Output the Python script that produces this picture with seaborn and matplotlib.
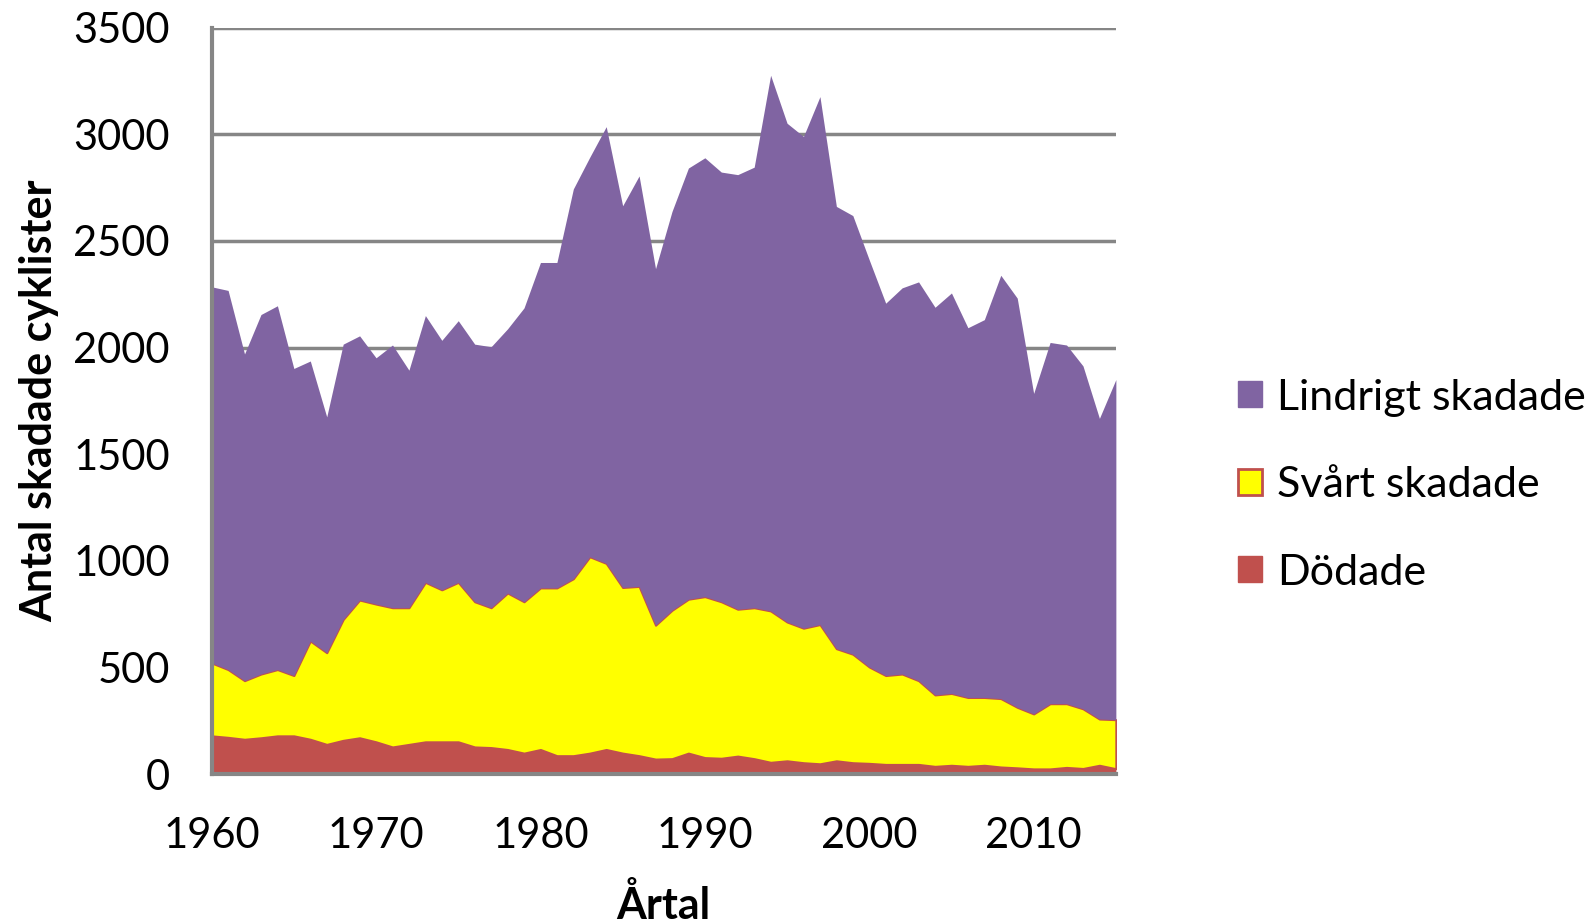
import numpy as np
import pandas as pd
import matplotlib
matplotlib.use("Agg")
import matplotlib.pyplot as plt
import seaborn as sns
from matplotlib.patches import Patch
from matplotlib.ticker import MultipleLocator

# ── Data ────────────────────────────────────────────────────
years = list(range(1960, 2016))

dodade = [179, 172, 163, 170, 179, 179, 163, 139, 158, 170,
          151, 127, 139, 151, 151, 151, 127, 124, 115, 98,
          115, 86, 86, 98, 115, 98, 86, 70, 72, 98,
          77, 74, 84, 72, 55, 62, 53, 48, 62, 53,
          50, 45, 45, 45, 36, 41, 36, 41, 33, 29,
          24, 24, 31, 26, 41, 25]

svart = [342, 318, 275, 299, 311, 283, 461, 430, 567, 646,
         646, 653, 641, 748, 713, 748, 681, 656, 734, 710,
         758, 787, 830, 921, 873, 777, 794, 628, 696, 722,
         755, 734, 689, 708, 710, 651, 631, 653, 526, 509,
         452, 417, 424, 393, 335, 337, 323, 318, 321, 284,
         258, 306, 299, 280, 217, 230]

lindrigt = [1764, 1778, 1532, 1686, 1706, 1440, 1313, 1106, 1291, 1239,
            1155, 1232, 1114, 1251, 1170, 1227, 1208, 1224, 1239, 1378,
            1526, 1526, 1828, 1874, 2048, 1790, 1925, 1672, 1870, 2022,
            2058, 2015, 2038, 2066, 2512, 2339, 2306, 2476, 2074, 2057,
            1909, 1746, 1811, 1870, 1818, 1878, 1734, 1772, 1985, 1919,
            1503, 1694, 1682, 1608, 1410, 1595]

df = pd.DataFrame({"Årtal": years, "Dödade": dodade,
                   "Svårt skadade": svart, "Lindrigt skadade": lindrigt})

# ── Style ───────────────────────────────────────────────────
sns.set_theme(style="white")
plt.rcParams["font.family"] = ["Lato", "DejaVu Sans"]
plt.rcParams["text.color"] = "black"
plt.rcParams["axes.labelcolor"] = "black"
plt.rcParams["xtick.color"] = "black"
plt.rcParams["ytick.color"] = "black"

RED = "#C0504D"
YELLOW = "#FFFF00"
PURPLE = "#8064A2"
GRID = "#868686"

fig = plt.figure(figsize=(15.95, 9.24), dpi=100)
ax = fig.add_axes([0.1327, 0.1623, 0.5669, 0.8077])

polys = ax.stackplot(df["Årtal"], df["Dödade"], df["Svårt skadade"],
                     df["Lindrigt skadade"],
                     colors=[RED, YELLOW, PURPLE], zorder=3)
polys[0].set_linewidth(0)
polys[1].set_edgecolor(RED)
polys[1].set_linewidth(1.5)
polys[2].set_linewidth(0)

ax.set_xlim(1960, 2015)
ax.set_ylim(0, 3500)
ax.yaxis.set_major_locator(MultipleLocator(500))
ax.xaxis.set_major_locator(MultipleLocator(10))
ax.xaxis.set_minor_locator(MultipleLocator(1))

ax.grid(axis="y", color=GRID, linewidth=2.5, zorder=1)
ax.set_axisbelow(True)

for side in ["top", "right"]:
    ax.spines[side].set_visible(False)
for side in ["left", "bottom"]:
    ax.spines[side].set_color(GRID)
    ax.spines[side].set_linewidth(3)
    ax.spines[side].set_zorder(4)

ax.tick_params(axis="x", which="both", direction="out", length=10,
               width=3, color=GRID, labelsize=30, pad=21)
ax.tick_params(axis="y", which="major", direction="out", length=10,
               width=3, color=GRID, labelsize=30, pad=20)
ax.tick_params(axis="x", which="minor", labelbottom=False)

ax.set_xlabel("Årtal", fontsize=31, fontweight="bold", labelpad=21)
ax.set_ylabel("Antal skadade cyklister", fontsize=31, fontweight="bold",
              labelpad=10)

handles = [Patch(facecolor=PURPLE, edgecolor=PURPLE, label="Lindrigt skadade"),
           Patch(facecolor=YELLOW, edgecolor=RED, linewidth=2,
                 label="Svårt skadade"),
           Patch(facecolor=RED, edgecolor=RED, label="Dödade")]
fig.legend(handles=handles, loc="center left",
           bbox_to_anchor=(0.752, 0.475), frameon=False, fontsize=31,
           handlelength=0.55, handleheight=0.55, handletextpad=0.35,
           labelspacing=1.15)

fig.savefig("out.png", dpi=100)
